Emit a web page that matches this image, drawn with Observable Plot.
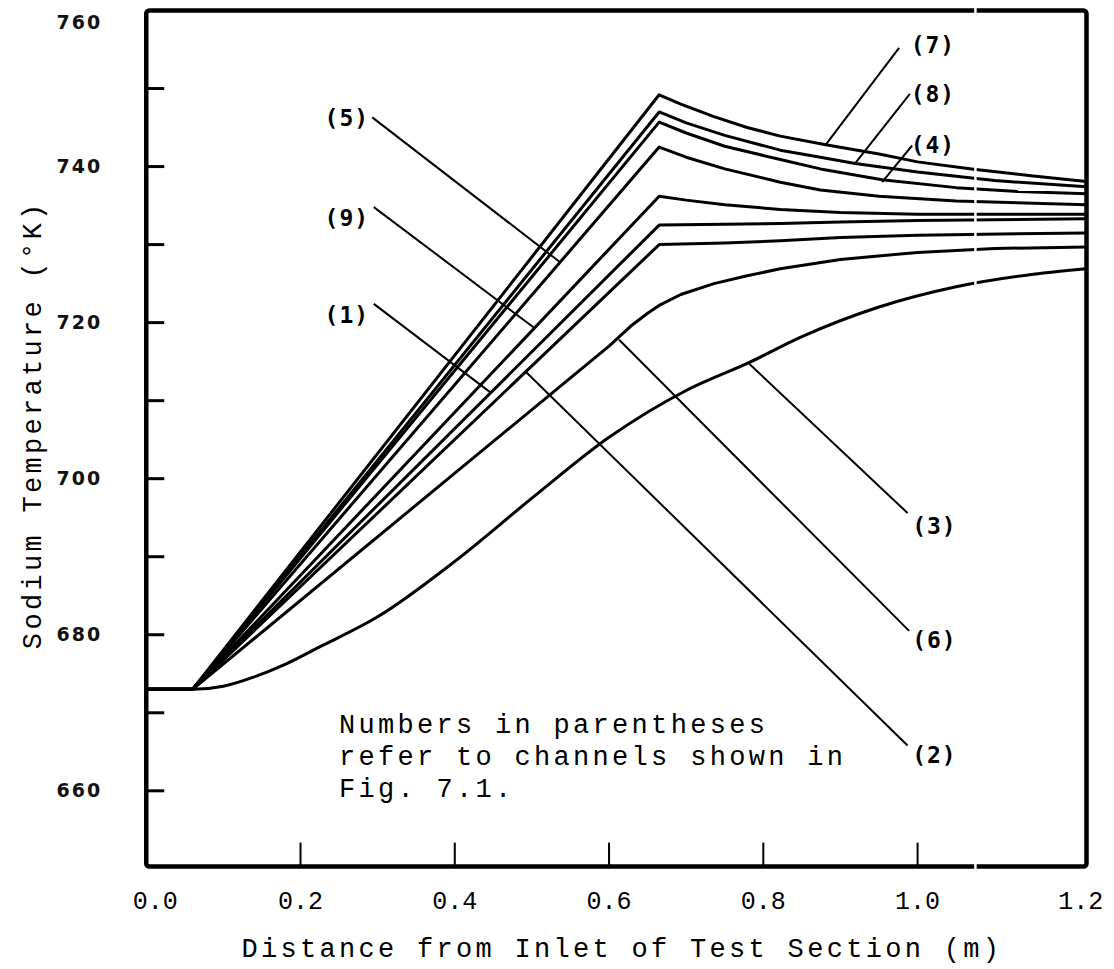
<!DOCTYPE html>
<html><head><meta charset="utf-8">
<script src="https://cdn.jsdelivr.net/npm/d3@7"></script>
<script src="https://cdn.jsdelivr.net/npm/@observablehq/plot@0.6"></script>
<style>
body{margin:0;background:#fff} svg{display:block}
g[aria-description="spaced"] text{letter-spacing:3.3px}
g[aria-description="ticklabel"] text{letter-spacing:2px}
g[aria-description="chlabel"] text{letter-spacing:1px}
</style>
</head><body><div id="chart"></div>
<script>
// Sodium temperature (K) vs distance from inlet (m), per channel
const ch7 = [[0,673],[0.06,673],[0.665,749.2],[0.693,748.0],[0.736,746.4],[0.779,745.0],[0.822,743.9],[0.881,742.8],[0.95,741.6],[1.0,740.6],[1.07,739.7],[1.15,738.8],[1.219,738.1]];
const ch8 = [[0,673],[0.06,673],[0.665,747.0],[0.70,745.6],[0.75,744.0],[0.822,742.1],[0.874,741.2],[0.919,740.4],[1.0,739.3],[1.1,738.2],[1.219,737.4]];
const ch4 = [[0,673],[0.06,673],[0.665,745.7],[0.70,744.3],[0.75,742.6],[0.822,740.9],[0.874,739.7],[0.954,738.3],[1.05,737.3],[1.13,736.8],[1.219,736.5]];
const ch5 = [[0,673],[0.06,673],[0.665,742.5],[0.70,741.2],[0.75,739.7],[0.822,738.0],[0.874,737.0],[0.95,736.2],[1.05,735.6],[1.219,735.1]];
const ch9 = [[0,673],[0.06,673],[0.665,736.2],[0.70,735.7],[0.75,735.1],[0.822,734.5],[0.9,734.1],[1.0,733.9],[1.219,733.9]];
const ch1 = [[0,673],[0.06,673],[0.665,732.5],[0.75,732.6],[0.822,732.7],[0.9,732.9],[1.0,733.1],[1.219,733.3]];
const ch2 = [[0,673],[0.06,673],[0.665,730.0],[0.75,730.2],[0.822,730.5],[0.9,730.9],[1.0,731.2],[1.219,731.5]];
const ch6 = [[0,673],[0.06,673],[0.6,717.0],[0.63,719.7],[0.65,721.2],[0.665,722.2],[0.693,723.6],[0.736,725.0],[0.779,726.0],[0.822,726.9],[0.9,728.1],[1.0,729.0],[1.1,729.5],[1.219,729.7]];
const ch3 = [[0,673],[0.06,673],[0.1,673.4],[0.14,674.6],[0.18,676.2],[0.226,678.5],[0.3,682.3],[0.4,689.4],[0.5,697.5],[0.6,705.3],[0.7,711.3],[0.782,714.9],[0.85,718.2],[0.95,722.0],[1.05,724.6],[1.15,726.2],[1.219,726.9]];

const seriesNames = ["7","8","4","5","9","1","2","6","3"];
const seriesData = [ch7, ch8, ch4, ch5, ch9, ch1, ch2, ch6, ch3];

// channel labels and their leader lines (data units)
const labelText = ["(7)","(8)","(4)","(5)","(9)","(1)","(3)","(6)","(2)"];
const labelX    = [0.991, 0.991, 0.991, 0.289, 0.289, 0.289, 0.993, 0.993, 0.993];
const labelY    = [755.5, 749.2, 742.7, 746.1, 733.3, 720.9, 693.8, 679.2, 664.5];
const leaderX1  = [0.881, 0.919, 0.954, 0.293, 0.295, 0.295, 0.782, 0.613, 0.492];
const leaderY1  = [742.8, 740.4, 738.0, 746.3, 734.8, 722.4, 714.7, 717.8, 713.7];
const leaderX2  = [0.976, 0.990, 0.993, 0.537, 0.502, 0.447, 0.987, 0.989, 0.987];
const leaderY2  = [755.2, 749.3, 742.7, 727.7, 719.4, 711.0, 695.6, 680.5, 665.8];

const yTickLabels = [760, 740, 720, 700, 680, 660];
const yTickMarks = [750, 740, 730, 720, 710, 700, 690, 680, 670, 660];
const xTickLabels = [0.0, 0.2, 0.4, 0.6, 0.8, 1.0, 1.2];
const xTickMarks = [0.2, 0.4, 0.6, 0.8, 1.0];

const xTitle = "Distance from Inlet of Test Section (m)";
const yTitle = "Sodium Temperature (°K)";
const note = "Numbers in parentheses\nrefer to channels shown in\nFig. 7.1.";

const xDomain = [0, 1.219];
const yDomain = [650.3, 760];

const rows = seriesData.flatMap((pts, i) => pts.map(([x, T]) => ({ch: seriesNames[i], x, T})));
const labels = labelText.map((t, i) => ({t, x: labelX[i], y: labelY[i], x1: leaderX1[i], y1: leaderY1[i], x2: leaderX2[i], y2: leaderY2[i]}));

const mono = "'Liberation Mono', 'DejaVu Sans Mono', monospace";
const labelFont = {fontFamily: "'DejaVu Sans Mono', monospace", fontWeight: "bold", fontSize: 23, fill: "black", ariaDescription: "chlabel"};
const yLabelFont = {fontFamily: "'DejaVu Sans', sans-serif", fontWeight: "bold", fontSize: 19, fill: "#111", ariaDescription: "ticklabel"};

const chart = Plot.plot({
  width: 1114,
  height: 969,
  marginLeft: 145.75,
  marginRight: 28,
  marginTop: 10,
  marginBottom: 103,
  x: {domain: xDomain, axis: null},
  y: {domain: yDomain, axis: null},
  style: {background: "white", overflow: "visible"},
  marks: [
    Plot.ruleY(yTickMarks, {x1: 0, x2: 0.024, stroke: "black", strokeWidth: 3}),
    Plot.ruleX(xTickMarks, {y1: yDomain[0], y2: yDomain[0] + 3, stroke: "black", strokeWidth: 2}),
    Plot.line(rows.filter(d => d.ch !== "3"), {x: "x", y: "T", z: "ch", stroke: "black", strokeWidth: 3, curve: "linear", strokeLinejoin: "round"}),
    Plot.line(rows.filter(d => d.ch === "3"), {x: "x", y: "T", stroke: "black", strokeWidth: 3, curve: "monotone-x"}),
    Plot.link(labels, {x1: "x1", y1: "y1", x2: "x2", y2: "y2", stroke: "black", strokeWidth: 2}),
    Plot.text(labels.filter(d => d.x > 0.5), {x: "x", y: "y", text: "t", textAnchor: "start", ...labelFont}),
    Plot.text(labels.filter(d => d.x < 0.5), {x: "x", y: "y", text: "t", textAnchor: "end", ...labelFont}),
    Plot.frame({stroke: "black", strokeWidth: 4.5, rx: 3}),
    Plot.ruleX([1.075], {y1: yDomain[0] - 0.4, y2: yDomain[1] + 0.4, stroke: "white", strokeWidth: 2.5}),
    // y tick labels
    Plot.text(yTickLabels.filter(v => v !== 760), {x: xDomain[0], y: d => d, text: d => String(d), dx: -44, textAnchor: "end", ...yLabelFont}),
    Plot.text(yTickLabels.filter(v => v === 760), {x: xDomain[0], y: d => d, text: d => String(d), dx: -44, dy: 12, textAnchor: "end", ...yLabelFont}),
    // x tick labels
    Plot.text(xTickLabels.filter(v => v > 0 && v < 1.2), {x: d => d, y: yDomain[0], text: d => d.toFixed(1), dy: 34, fontFamily: mono, fontSize: 25, fill: "black"}),
    Plot.text(xTickLabels.filter(v => v === 0 || v === 1.2), {x: d => d, y: yDomain[0], text: d => d.toFixed(1), dy: 34, dx: 9, fontFamily: mono, fontSize: 25, fill: "black"}),
    // axis titles
    Plot.text([xTitle], {x: 0.614, y: yDomain[0], text: d => d, dy: 82, dx: 2, fontFamily: mono, fontSize: 27, fill: "black", ariaDescription: "spaced"}),
    Plot.text([yTitle], {x: xDomain[0], y: 706.9, text: d => d, dx: -114, rotate: -90, fontFamily: mono, fontSize: 27, fill: "black", ariaDescription: "spaced"}),
    // note
    Plot.text([note], {x: 0.25, y: 664.6, text: d => d, textAnchor: "start", lineAnchor: "middle", lineHeight: 1.18, fontFamily: mono, fontSize: 27, fill: "black", ariaDescription: "spaced"})
  ]
});
document.getElementById("chart").appendChild(chart);
</script>
</body></html>
